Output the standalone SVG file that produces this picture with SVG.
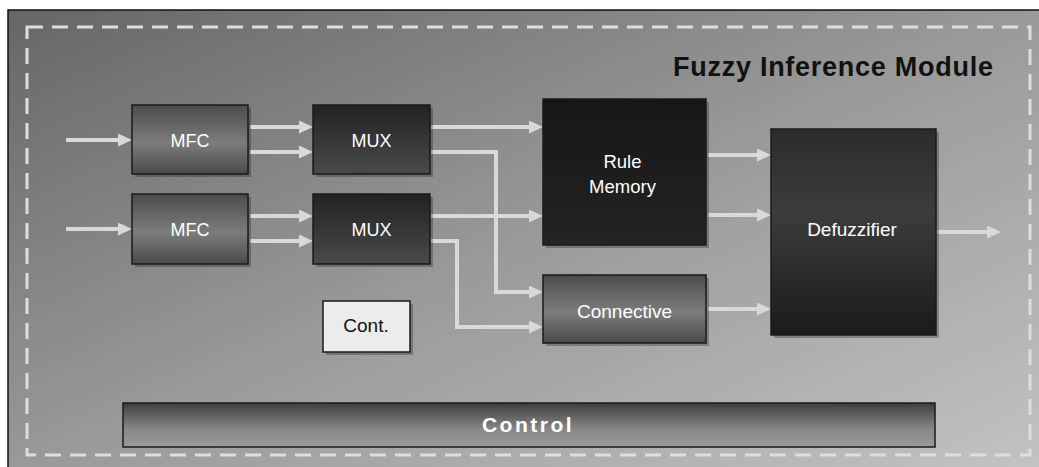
<svg xmlns="http://www.w3.org/2000/svg" width="1039" height="467" viewBox="0 0 1039 467">
<style>
.lbl{font-family:"Liberation Sans",Arial,sans-serif;font-size:18px;fill:#ffffff;text-anchor:middle}
.dark{fill:#111111}
.box{stroke:#1a1a1a;stroke-width:1.5}
.shadow{fill:#000000;opacity:0.25}
.wire{fill:none;stroke:#d9d9d9;stroke-width:4;stroke-linejoin:miter}
</style>
<defs>
<linearGradient id="bg" x1="0" y1="0" x2="1" y2="1">
<stop offset="0" stop-color="#666666"/>
<stop offset="0.5" stop-color="#9a9a9a"/>
<stop offset="1" stop-color="#c4c4c4"/>
</linearGradient>
<linearGradient id="gMfc" x1="0" y1="0" x2="0" y2="1">
<stop offset="0" stop-color="#4c4c4c"/>
<stop offset="0.55" stop-color="#7c7c7c"/>
<stop offset="1" stop-color="#4a4a4a"/>
</linearGradient>
<linearGradient id="gMux" x1="0" y1="0" x2="0" y2="1">
<stop offset="0" stop-color="#222222"/>
<stop offset="1" stop-color="#4a4a4a"/>
</linearGradient>
<linearGradient id="gRule" x1="0" y1="0" x2="0" y2="1">
<stop offset="0" stop-color="#161616"/>
<stop offset="1" stop-color="#242424"/>
</linearGradient>
<linearGradient id="gDef" x1="0" y1="0" x2="0" y2="1">
<stop offset="0" stop-color="#2c2c2c"/>
<stop offset="0.4" stop-color="#3c3c3c"/>
<stop offset="1" stop-color="#1b1b1b"/>
</linearGradient>
<linearGradient id="gCtl" x1="0" y1="0" x2="0" y2="1">
<stop offset="0" stop-color="#3e3e3e"/>
<stop offset="0.6" stop-color="#888888"/>
<stop offset="1" stop-color="#9a9a9a"/>
</linearGradient>
<marker id="ah" markerUnits="userSpaceOnUse" markerWidth="15" markerHeight="13" refX="1" refY="6.5" orient="auto">
<path d="M0,0 L14,6.5 L0,13 z" fill="#d9d9d9"/>
</marker>
</defs>

<g id="background">
<rect x="8" y="10" width="1040" height="470" fill="url(#bg)" stroke="#111111" stroke-width="1.5"/>
<rect x="27" y="27" width="1003" height="428" fill="none" stroke="#dedede" stroke-width="3" stroke-dasharray="16 9"/>
<text x="993" y="76" font-family="'Liberation Sans',Arial,sans-serif" font-size="27" font-weight="bold" fill="#111111" text-anchor="end" textLength="320" lengthAdjust="spacing">Fuzzy Inference Module</text>
</g>

<g id="connectors">
<line class="wire" x1="66" y1="140" x2="119" y2="140" marker-end="url(#ah)"/>
<line class="wire" x1="66" y1="229" x2="119" y2="229" marker-end="url(#ah)"/>
<line class="wire" x1="250" y1="127" x2="300" y2="127" marker-end="url(#ah)"/>
<line class="wire" x1="250" y1="152" x2="300" y2="152" marker-end="url(#ah)"/>
<line class="wire" x1="250" y1="216" x2="300" y2="216" marker-end="url(#ah)"/>
<line class="wire" x1="250" y1="241" x2="300" y2="241" marker-end="url(#ah)"/>
<line class="wire" x1="431" y1="127" x2="530" y2="127" marker-end="url(#ah)"/>
<line class="wire" x1="431" y1="216" x2="530" y2="216" marker-end="url(#ah)"/>
<polyline class="wire" points="431,152 496,152 496,292 530,292" marker-end="url(#ah)"/>
<polyline class="wire" points="431,241 457,241 457,327 530,327" marker-end="url(#ah)"/>
<line class="wire" x1="708" y1="155" x2="758" y2="155" marker-end="url(#ah)"/>
<line class="wire" x1="708" y1="215" x2="758" y2="215" marker-end="url(#ah)"/>
<line class="wire" x1="708" y1="309" x2="758" y2="309" marker-end="url(#ah)"/>
<line class="wire" x1="937" y1="232" x2="988" y2="232" marker-end="url(#ah)"/>
</g>

<g id="mfc1">
<rect class="shadow" x="135" y="108" width="116" height="69"/>
<rect class="box" x="132" y="105" width="116" height="69" fill="url(#gMfc)"/>
<text class="lbl" x="190" y="147">MFC</text>
</g>
<g id="mfc2">
<rect class="shadow" x="135" y="197" width="116" height="70"/>
<rect class="box" x="132" y="194" width="116" height="70" fill="url(#gMfc)"/>
<text class="lbl" x="190" y="236">MFC</text>
</g>
<g id="mux1">
<rect class="shadow" x="316" y="108" width="117" height="69"/>
<rect class="box" x="313" y="105" width="117" height="69" fill="url(#gMux)"/>
<text class="lbl" x="371.5" y="147">MUX</text>
</g>
<g id="mux2">
<rect class="shadow" x="316" y="197" width="117" height="70"/>
<rect class="box" x="313" y="194" width="117" height="70" fill="url(#gMux)"/>
<text class="lbl" x="371.5" y="236">MUX</text>
</g>
<g id="rule-memory">
<rect class="shadow" x="546" y="102" width="163" height="146"/>
<rect class="box" x="543" y="99" width="163" height="146" fill="url(#gRule)"/>
<text class="lbl" x="622.5" y="168" style="font-size:18.5px">Rule</text>
<text class="lbl" x="622.5" y="193" style="font-size:18.5px">Memory</text>
</g>
<g id="connective">
<rect class="shadow" x="546" y="278" width="163" height="68"/>
<rect class="box" x="543" y="275" width="163" height="68" fill="url(#gMfc)"/>
<text class="lbl" x="624.5" y="318" style="font-size:19px">Connective</text>
</g>
<g id="defuzzifier">
<rect class="shadow" x="774" y="132" width="165" height="206"/>
<rect class="box" x="771" y="129" width="165" height="206" fill="url(#gDef)"/>
<text class="lbl" x="852" y="236" style="font-size:19px">Defuzzifier</text>
</g>
<g id="cont">
<rect class="shadow" x="326" y="304" width="87" height="51"/>
<rect class="box" x="323" y="301" width="87" height="51" fill="#ececec"/>
<text class="lbl dark" x="366" y="332" style="font-size:19px">Cont.</text>
</g>
<g id="control">
<rect class="box" x="123" y="403" width="812" height="44" fill="url(#gCtl)"/>
<text class="lbl" x="528" y="432" style="font-size:21px;font-weight:bold;letter-spacing:2.5px">Control</text>
</g>
</svg>
